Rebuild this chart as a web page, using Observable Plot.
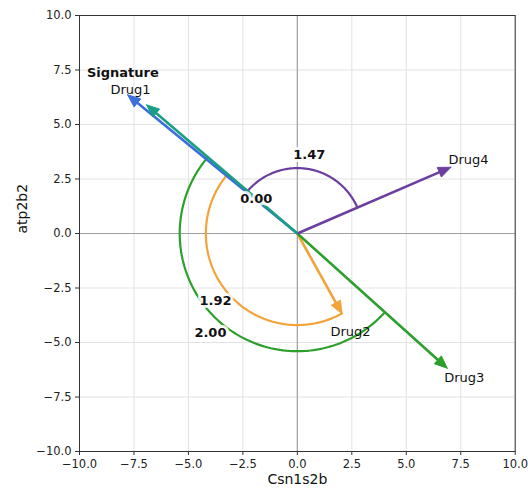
<!DOCTYPE html>
<html><head><meta charset="utf-8">
<script src="https://cdn.jsdelivr.net/npm/d3@7"></script>
<script src="https://cdn.jsdelivr.net/npm/@observablehq/plot@0.6"></script>
<style>body{margin:0;background:#fff}</style>
</head><body><div id="chart"></div>
<script>
// ---- data ----
const names = ["Signature", "Drug1", "Drug2", "Drug3", "Drug4"];
const vecX = [-6.92, -7.79, 2.05, 6.88, 7.05];
const vecY = [5.90, 6.36, -3.68, -6.18, 3.04];
const colors = ["#1a9e84", "#3a6fdc", "#f2a33a", "#2ca02c", "#6b3fa0"];
const labelX = [-8.01, -7.66, 2.44, 7.66, 7.86];
const labelY = [7.37, 6.61, -4.52, -6.62, 3.39];
const angleDrugs = ["Drug1", "Drug2", "Drug3", "Drug4"];
const angleValues = ["0.00", "1.92", "2.00", "1.47"];
const arcRadius = [1.8, 4.2, 5.4, 3.0];
const ticks = [-10, -7.5, -5, -2.5, 0, 2.5, 5, 7.5, 10];
const xLabel = "Csn1s2b";
const yLabel = "atp2b2";

// ---- derived geometry ----
const vectors = names.map((n, i) => ({name: n, x: vecX[i], y: vecY[i], color: colors[i], lx: labelX[i], ly: labelY[i]}));
const headLen = 0.58, headHalf = 0.24;
function arrowParts(v) {
  const len = Math.hypot(v.x, v.y);
  const ux = v.x / len, uy = v.y / len;
  const nx = -uy, ny = ux;
  const bx = v.x - headLen * ux, by = v.y - headLen * uy;
  const shaft = [{x: 0, y: 0}, {x: bx + 0.1 * ux, y: by + 0.1 * uy}];
  const head = [
    {x: v.x, y: v.y},
    {x: bx + headHalf * nx, y: by + headHalf * ny},
    {x: bx - headHalf * nx, y: by - headHalf * ny},
    {x: v.x, y: v.y}
  ];
  return {shaft, head};
}
const sig = vectors[0];
const thetaS = Math.atan2(sig.y, sig.x);
const arcs = angleDrugs.map((d, i) => {
  const v = vectors.find(e => e.name === d);
  const thetaD = Math.atan2(v.y, v.x);
  let delta = thetaD - thetaS;
  while (delta > Math.PI) delta -= 2 * Math.PI;
  while (delta <= -Math.PI) delta += 2 * Math.PI;
  const r = arcRadius[i];
  const pts = d3.range(0, 121).map(k => {
    const t = thetaS + delta * k / 120;
    return {x: r * Math.cos(t), y: r * Math.sin(t)};
  });
  const mid = thetaS + delta / 2;
  const lr = r + 0.66;
  return {drug: d, color: v.color, pts, label: angleValues[i], lx: lr * Math.cos(mid), ly: lr * Math.sin(mid)};
});

const marks = [];
marks.push(Plot.ruleX(ticks, {stroke: "#e2e2e2", strokeWidth: 1}));
marks.push(Plot.ruleY(ticks, {stroke: "#e2e2e2", strokeWidth: 1}));
marks.push(Plot.ruleX([0], {stroke: "#a0a0a0", strokeWidth: 1.2}));
marks.push(Plot.ruleY([0], {stroke: "#a0a0a0", strokeWidth: 1.2}));
for (const a of arcs) {
  marks.push(Plot.line(a.pts, {x: "x", y: "y", stroke: a.color, strokeWidth: 2.2, curve: "linear"}));
}
const drawOrder = [1, 2, 3, 4, 0];
for (const i of drawOrder) {
  const v = vectors[i];
  const p = arrowParts(v);
  marks.push(Plot.line(p.shaft, {x: "x", y: "y", stroke: v.color, strokeWidth: 2.6, strokeLinecap: "butt"}));
  marks.push(Plot.line(p.head, {x: "x", y: "y", stroke: v.color, fill: v.color, strokeWidth: 1, strokeLinejoin: "miter"}));
}
marks.push(Plot.text(vectors.filter(d => d.name !== "Signature"), {
  x: "lx", y: "ly", text: "name", fill: "#111", fontSize: 13, fontFamily: "DejaVu Sans"
}));
marks.push(Plot.text(vectors.filter(d => d.name === "Signature"), {
  x: "lx", y: "ly", text: "name", fill: "#111", fontSize: 13, fontWeight: "bold", fontFamily: "DejaVu Sans"
}));
marks.push(Plot.text(arcs, {
  x: "lx", y: "ly", text: "label", fill: "#111", fontSize: 13, fontWeight: "bold",
  fontFamily: "DejaVu Sans", stroke: "white", strokeWidth: 6, strokeOpacity: 0.85
}));
marks.push(Plot.frame({stroke: "#333", strokeWidth: 1}));
marks.push(Plot.axisX(ticks, {tickFormat: d3.format(".1f"), tickSize: 4, tickPadding: 4, fontSize: 11.5, label: null, stroke: "#333", fill: "#222"}));
marks.push(Plot.axisY(ticks, {tickFormat: d3.format(".1f"), tickSize: 4, tickPadding: 4, fontSize: 11.5, label: null, stroke: "#333", fill: "#222"}));
marks.push(Plot.text([xLabel], {frameAnchor: "bottom", dy: 32, text: d => d, fontSize: 14, fill: "#111", fontFamily: "DejaVu Sans"}));
marks.push(Plot.text([yLabel], {frameAnchor: "left", dx: -57, rotate: -90, text: d => d, fontSize: 14, fill: "#111", fontFamily: "DejaVu Sans"}));

const chart = Plot.plot({
  width: 528,
  height: 492,
  marginLeft: 79,
  marginRight: 13.3,
  marginTop: 15,
  marginBottom: 41,
  x: {domain: [-10, 10]},
  y: {domain: [-10, 10]},
  style: {fontFamily: "DejaVu Sans", fontSize: "11px", background: "white", color: "#222"},
  marks
});
document.getElementById("chart").appendChild(chart);
</script>
</body></html>
